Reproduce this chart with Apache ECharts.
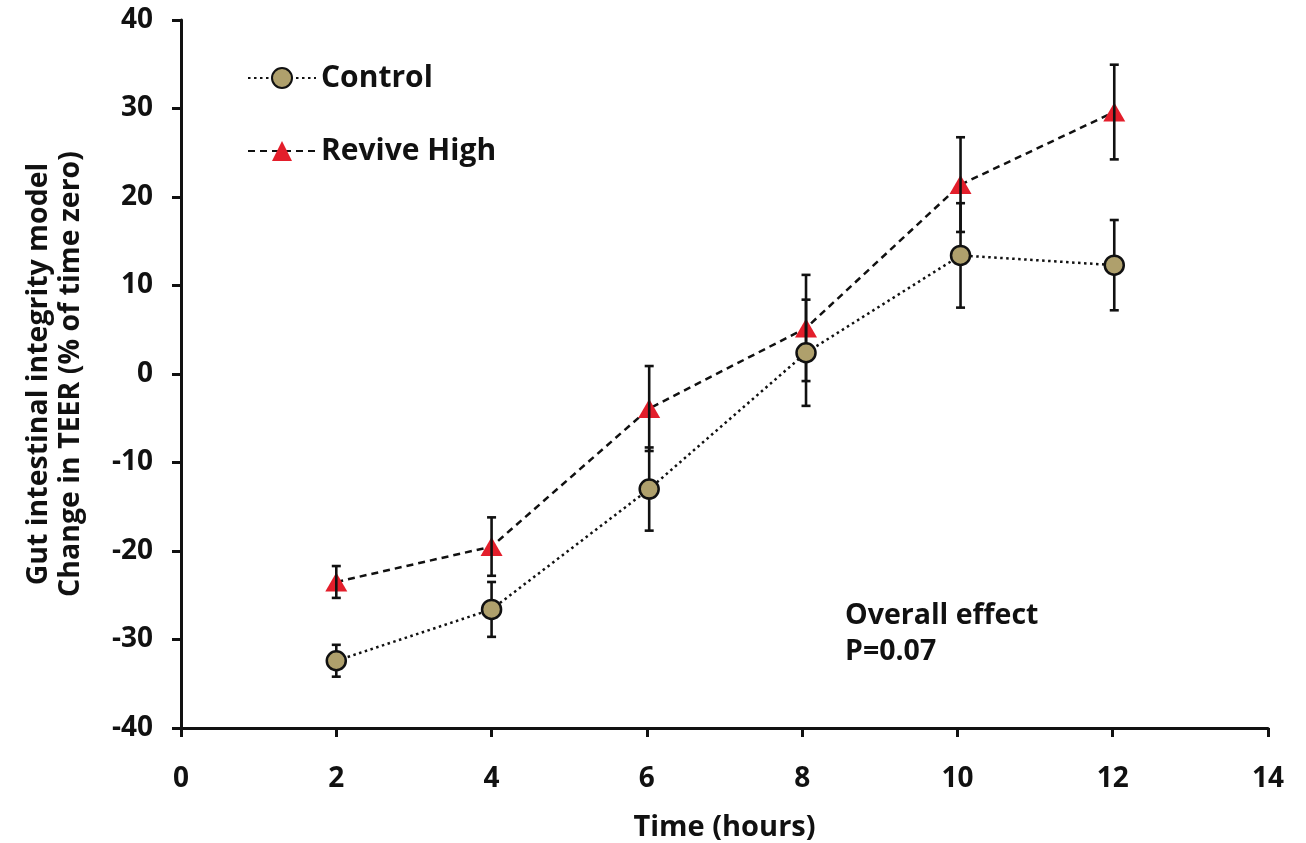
<!DOCTYPE html>
<html><head><meta charset="utf-8">
<script src="https://cdn.jsdelivr.net/npm/echarts@6/dist/echarts.min.js"></script>
<style>html,body{margin:0;padding:0;background:#fff}#c{width:1306px;height:843px}</style>
</head><body><div id="c"></div>
<script>
const timeHours = [2, 4, 6.03, 8.05, 10.04, 12.02];
const controlMean = [-32.4, -26.6, -13.0, 2.4, 13.4, 12.3];
const controlErr = [1.8, 3.1, 4.7, 6.0, 5.9, 5.1];
const reviveMean = [-23.5, -19.5, -3.9, 5.2, 21.4, 29.6];
const reviveErr = [1.8, 3.3, 4.8, 6.0, 5.35, 5.35];
const seriesNames = ['Control', 'Revive High'];
const yTitle = ['Gut intestinal integrity model', 'Change in TEER (% of time zero)'];
const xTitle = 'Time (hours)';
const noteLines = ['Overall effect', 'P=0.07'];

const FONT = '"Open Sans", sans-serif';
const pairs = (xs, ys) => xs.map((x, i) => [x, ys[i]]);
const errData = [];
timeHours.forEach((x, i) => errData.push([x, controlMean[i] - controlErr[i], controlMean[i] + controlErr[i]]));
timeHours.forEach((x, i) => errData.push([x, reviveMean[i] - reviveErr[i], reviveMean[i] + reviveErr[i]]));

const chart = echarts.init(document.getElementById('c'), null, {renderer: 'canvas'});
chart.setOption({
  animation: false,
  backgroundColor: '#fff',
  grid: {left: 181, right: 38, top: 20, bottom: 115, containLabel: false, outerBoundsMode: 'none'},
  legend: {
    orient: 'vertical', left: 247, top: 63, padding: 0,
    itemWidth: 68, itemHeight: 25, itemGap: 43,
    data: seriesNames,
    textStyle: {fontFamily: FONT, fontWeight: 'bold', fontSize: 30, color: '#111'}
  },
  xAxis: {
    type: 'value', min: 0, max: 14, interval: 2,
    name: xTitle, nameLocation: 'middle', nameGap: 85,
    nameTextStyle: {fontFamily: FONT, fontWeight: 'bold', fontSize: 29, color: '#111'},
    axisLine: {onZero: false, lineStyle: {color: '#111', width: 3}},
    axisTick: {show: true, inside: false, length: 9, lineStyle: {color: '#111', width: 3}},
    axisLabel: {margin: 37, fontFamily: FONT, fontWeight: 'bold', fontSize: 28, color: '#111'},
    splitLine: {show: false}
  },
  yAxis: {
    type: 'value', min: -40, max: 40, interval: 10,
    name: yTitle.join('\n'), nameLocation: 'middle', nameGap: 94, nameRotate: 90,
    nameTextStyle: {fontFamily: FONT, fontWeight: 'bold', fontSize: 28.5, color: '#111', lineHeight: 32},
    axisLine: {show: true, lineStyle: {color: '#111', width: 3}},
    axisTick: {show: true, inside: false, length: 9, lineStyle: {color: '#111', width: 3}},
    axisLabel: {margin: 28, fontFamily: FONT, fontWeight: 'bold', fontSize: 28, color: '#111'},
    splitLine: {show: false}
  },
  graphic: [{
    type: 'text', left: 845, top: 598,
    style: {text: noteLines.join('\n'), fontFamily: FONT, fontWeight: 'bold', fontSize: 28.5, lineHeight: 36, fill: '#111'}
  }],
  series: [
    {
      name: seriesNames[1], type: 'line', z: 2,
      data: pairs(timeHours, reviveMean),
      symbol: 'triangle', symbolSize: [22, 19],
      itemStyle: {color: '#E31E2B', borderWidth: 0},
      lineStyle: {color: '#111', width: 2.5, type: [7, 5]}
    },
    {
      type: 'custom', z: 3, silent: true,
      data: errData,
      renderItem: function (params, api) {
        const x = api.value(0);
        const lo = api.coord([x, api.value(1)]);
        const hi = api.coord([x, api.value(2)]);
        const w = 4.5;
        const st = {stroke: '#111', lineWidth: 2.6};
        return {type: 'group', children: [
          {type: 'line', shape: {x1: hi[0], y1: hi[1], x2: lo[0], y2: lo[1]}, style: st},
          {type: 'line', shape: {x1: hi[0] - w, y1: hi[1], x2: hi[0] + w, y2: hi[1]}, style: st},
          {type: 'line', shape: {x1: lo[0] - w, y1: lo[1], x2: lo[0] + w, y2: lo[1]}, style: st}
        ]};
      }
    },
    {
      name: seriesNames[0], type: 'line', z: 4,
      data: pairs(timeHours, controlMean),
      symbol: 'circle', symbolSize: 19,
      itemStyle: {color: '#AFA06C', borderColor: '#111', borderWidth: 2.5},
      lineStyle: {color: '#111', width: 2.5, type: [2.5, 3.5]}
    }
  ]
});
</script></body></html>
